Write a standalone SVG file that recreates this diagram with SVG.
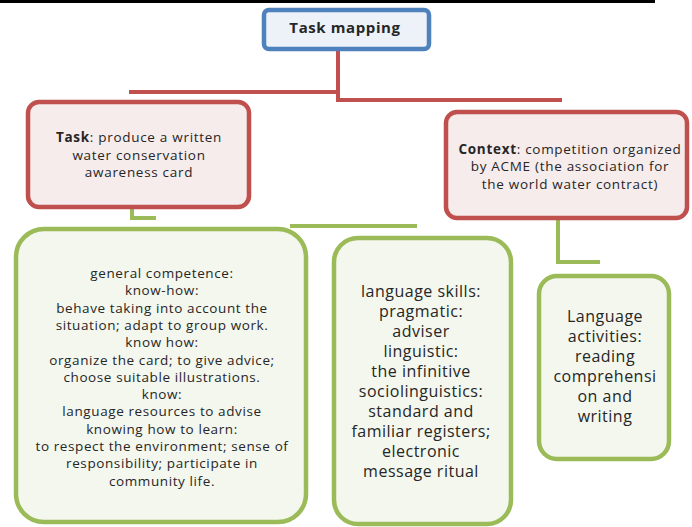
<svg xmlns="http://www.w3.org/2000/svg" width="692" height="527" viewBox="0 0 692 527">
<style>
text{font-family:"Open Sans","Liberation Sans",sans-serif;fill:#262626;text-anchor:middle}
.red{fill:#f6ecec;stroke:#c0504d;stroke-width:4.5}
.blue{fill:#edf2f9;stroke:#4f81bd;stroke-width:4.5}
.green{fill:#f4f7ee;stroke:#9bbb59;stroke-width:4.5}
.cr{fill:none;stroke:#c0504d;stroke-width:4}
.cg{fill:none;stroke:#9bbb59;stroke-width:4}
.t{font-size:13.5px;letter-spacing:0.7px}
.s{font-size:13.5px;letter-spacing:0.6px}
.m{font-size:16px;letter-spacing:0.5px}
</style>
<rect x="0" y="0" width="655" height="3" fill="#000"/>
<g id="connectors">
<path class="cr" d="M338,50 V100 H562"/>
<path class="cr" d="M129,92 H338"/>
<path class="cg" d="M132,208 V218 H156"/>
<path class="cg" d="M290,226 H417"/>
<path class="cg" d="M558,219 V262 H600"/>
</g>
<g id="task-mapping">
<rect class="blue" x="264" y="10" width="165" height="39" rx="5"/>
<text x="345" y="33" font-size="15" font-weight="bold" letter-spacing="0.6">Task mapping</text>
</g>
<g id="task">
<rect class="red" x="28" y="102" width="221" height="105" rx="11"/>
<text class="t" x="139" y="142"><tspan font-weight="bold">Task</tspan>: produce a written</text>
<text class="t" x="139" y="159.5">water conservation</text>
<text class="t" x="139" y="177">awareness card</text>
</g>
<g id="context">
<rect class="red" x="446" y="112" width="241" height="106" rx="11"/>
<text class="t" x="570" y="153.5"><tspan font-weight="bold">Context</tspan>: competition organized</text>
<text class="t" x="570" y="171">by ACME (the association for</text>
<text class="t" x="570" y="188.5">the world water contract)</text>
</g>
<g id="general-competence">
<rect class="green" x="16" y="229" width="290" height="293" rx="28"/>
<text class="s" x="162" y="278">general competence:</text>
<text class="s" x="162" y="295.3">know-how:</text>
<text class="s" x="162" y="312.6">behave taking into account the</text>
<text class="s" x="162" y="329.9">situation; adapt to group work.</text>
<text class="s" x="162" y="347.2">know how:</text>
<text class="s" x="162" y="364.5">organize the card; to give advice;</text>
<text class="s" x="162" y="381.8">choose suitable illustrations.</text>
<text class="s" x="162" y="399.1">know:</text>
<text class="s" x="162" y="416.4">language resources to advise</text>
<text class="s" x="162" y="433.7">knowing how to learn:</text>
<text class="s" x="162" y="451">to respect the environment; sense of</text>
<text class="s" x="162" y="468.3">responsibility; participate in</text>
<text class="s" x="162" y="485.6">community life.</text>
</g>
<g id="language-skills">
<rect class="green" x="334" y="238" width="177" height="286" rx="24"/>
<text class="m" x="421" y="297">language skills:</text>
<text class="m" x="421" y="317">pragmatic:</text>
<text class="m" x="421" y="337">adviser</text>
<text class="m" x="421" y="357">linguistic:</text>
<text class="m" x="421" y="377">the infinitive</text>
<text class="m" x="421" y="397">sociolinguistics:</text>
<text class="m" x="421" y="417">standard and</text>
<text class="m" x="421" y="437">familiar registers;</text>
<text class="m" x="421" y="457">electronic</text>
<text class="m" x="421" y="477">message ritual</text>
</g>
<g id="language-activities">
<rect class="green" x="539" y="276" width="130" height="183" rx="18"/>
<text class="m" x="605" y="322">Language</text>
<text class="m" x="605" y="342">activities:</text>
<text class="m" x="605" y="362">reading</text>
<text class="m" x="605" y="382">comprehensi</text>
<text class="m" x="605" y="402">on and</text>
<text class="m" x="605" y="422">writing</text>
</g>
</svg>
